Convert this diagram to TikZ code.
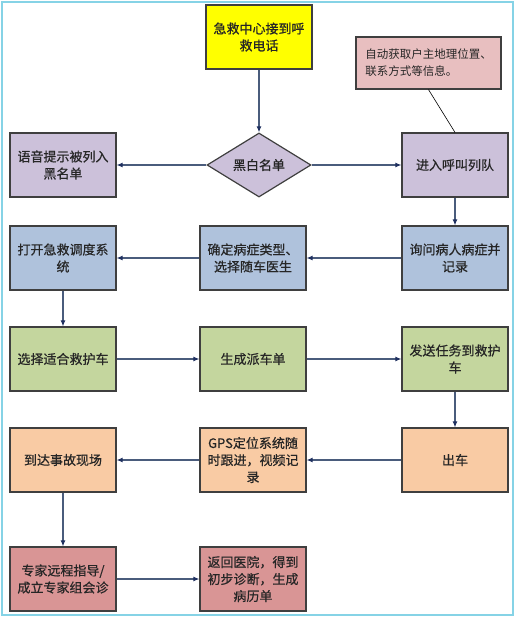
\documentclass[tikz,border=0pt]{standalone}
\usepackage{fontspec}
\newfontfamily\cjk[FakeBold=0.6]{Noto Sans CJK SC}
\newfontfamily\cjkl{Noto Sans CJK SC}
\usetikzlibrary{shapes.geometric,arrows.meta}
\definecolor{frame}{HTML}{86D3E6}
\definecolor{edgec}{HTML}{3F3F3F}
\definecolor{linec}{HTML}{4A5C7C}
\definecolor{tipc}{HTML}{1F3060}
\definecolor{cyellow}{HTML}{FFFF00}
\definecolor{cpink}{HTML}{E8BFC0}
\definecolor{clav}{HTML}{CCC1DA}
\definecolor{cblue}{HTML}{AFC2DC}
\definecolor{cgreen}{HTML}{C4D69E}
\definecolor{cpeach}{HTML}{F9CBA4}
\definecolor{crose}{HTML}{D99595}
\tikzset{
  box/.style={draw=edgec, line width=1.2pt, minimum width=106pt, minimum height=64pt,
    inner sep=2pt, align=center, font=\cjk\fontsize{13}{17}\selectfont, text=black!85},
  flow/.style={draw=linec, line width=1.1pt, -{Latex[length=6pt,width=5pt,color=tipc]}}
}
\begin{document}
\begin{tikzpicture}[x=1pt,y=-1pt]
\useasboundingbox (0,0) rectangle (515,618);
\draw[frame, line width=2pt] (2,2) rectangle (513,615);
% nodes
\node[box, fill=cyellow] (call) at (259,37) {急救中心接到呼\\救电话};
\node[box, fill=cpink, minimum width=145pt, minimum height=52pt, align=left,
  font=\cjkl\fontsize{11.5}{17}\selectfont] (auto) at (428.5,63) {自动获取户主地理位置、\\联系方式等信息。};
\node[box, fill=clav] (black) at (63,165) {语音提示被列入\\黑名单};
\node[box, fill=clav, shape=diamond, minimum width=104pt, minimum height=64pt, inner sep=0pt] (bw) at (259,165) {黑白名单};
\node[box, fill=clav] (queue) at (455,165) {进入呼叫列队};
\node[box, fill=cblue] (ask) at (455,258) {询问病人病症并\\记录};
\node[box, fill=cblue] (type) at (253,258) {确定病症类型、\\选择随车医生};
\node[box, fill=cblue] (open) at (63,258) {打开急救调度系\\统};
\node[box, fill=cgreen] (sel) at (63,359) {选择适合救护车};
\node[box, fill=cgreen] (gen) at (253,359) {生成派车单};
\node[box, fill=cgreen] (send) at (455,359) {发送任务到救护\\车};
\node[box, fill=cpeach] (out) at (455,460) {出车};
\node[box, fill=cpeach] (gps) at (253,460) {GPS定位系统随\\时跟进，视频记\\录};
\node[box, fill=cpeach] (arr) at (63,460) {到达事故现场};
\node[box, fill=crose] (exp) at (63,579) {专家远程指导/\\成立专家组会诊};
\node[box, fill=crose] (ret) at (253,579) {返回医院，得到\\初步诊断，生成\\病历单};
% connectors
\draw[flow] (call) -- (bw);
\draw[flow] (bw) -- (black);
\draw[flow] (bw) -- (queue);
\draw[black, line width=0.6pt] (auto.south) -- (queue.north);
\draw[flow] (queue) -- (ask);
\draw[flow] (ask) -- (type);
\draw[flow] (type) -- (open);
\draw[flow] (open) -- (sel);
\draw[flow] (sel) -- (gen);
\draw[flow] (gen) -- (send);
\draw[flow] (send) -- (out);
\draw[flow] (out) -- (gps);
\draw[flow] (gps) -- (arr);
\draw[flow] (arr) -- (exp);
\draw[flow] (exp) -- (ret);
\end{tikzpicture}
\end{document}
